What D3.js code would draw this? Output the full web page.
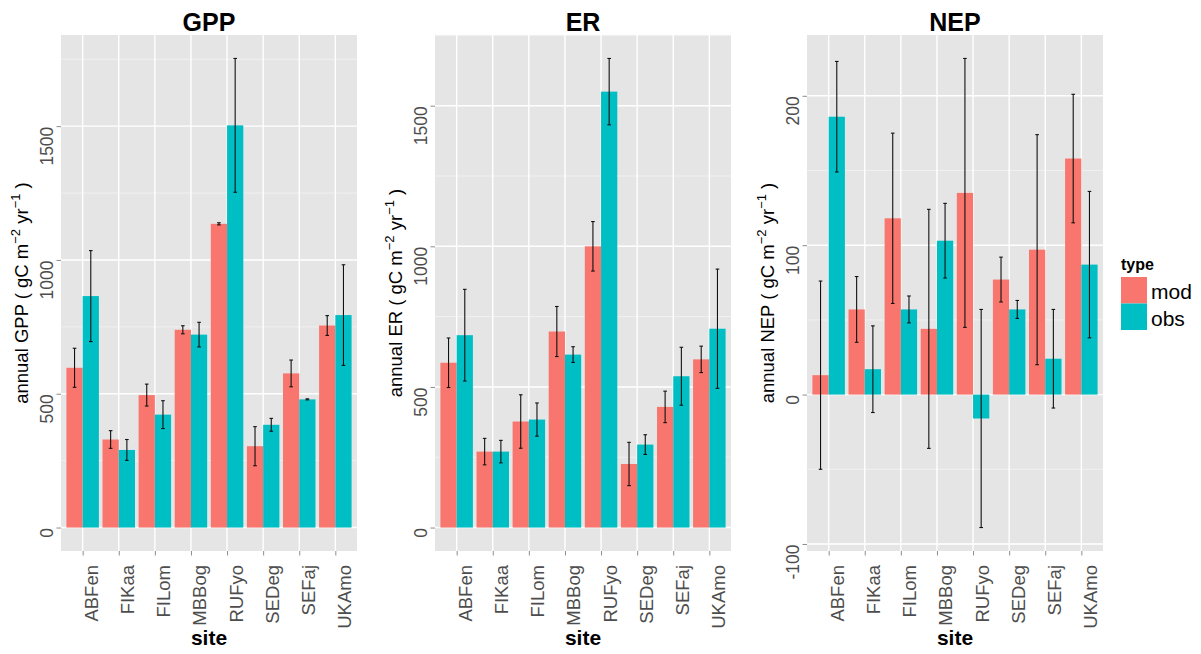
<!DOCTYPE html>
<html>
<head>
<meta charset="utf-8">
<script src="https://cdn.jsdelivr.net/npm/d3@7"></script>
<style>
  body { margin: 0; background: #fff; }
  svg { font-family: "Liberation Sans", Arial, sans-serif; display: block; }
</style>
</head>
<body>
<div id="chart"></div>
<script>
// sites on the x axis
var sites = ["ABFen", "FIKaa", "FILom", "MBBog", "RUFyo", "SEDeg", "SEFaj", "UKAmo"];
var types = ["mod", "obs"];

// GPP (gC m-2 yr-1)
var gppMod    = [597, 329, 495, 739, 1135, 304, 576, 755];
var gppModErr = [73, 33, 41, 15, 4, 73, 50, 37];
var gppObs    = [865, 290, 422, 721, 1503, 384, 479, 794];
var gppObsErr = [170, 39, 52, 46, 250, 24, 2, 188];

// ER
var erMod    = [586, 270, 377, 697, 1000, 226, 429, 598];
var erModErr = [88, 47, 95, 89, 88, 77, 56, 47];
var erObs    = [684, 270, 384, 615, 1550, 295, 538, 707];
var erObsErr = [163, 40, 59, 28, 118, 35, 103, 212];

// NEP
var nepMod    = [13, 57, 118, 44, 135, 77, 97, 158];
var nepModErr = [63, 22, 57, 80, 90, 15, 77, 43];
var nepObs    = [186, 17, 57, 103, -16, 57, 24, 87];
var nepObsErr = [37, 29, 9, 25, 73, 6, 33, 49];

var gppTicks = [0, 500, 1000, 1500];
var erTicks  = [0, 500, 1000, 1500];
var nepTicks = [-100, 0, 100, 200];

var colors = {mod: "#F8766D", obs: "#00BFC4"};

var width = 1201, height = 654;
var panelTop = 35, panelBottom = 551, panelW = 296;

var svg = d3.select("#chart")
  .append("svg")
  .attr("width", width)
  .attr("height", height);

function drawPanel(x0, title, name, mod, modErr, obs, obsErr, ticks) {
  var g = svg.append("g");

  var x = d3.scalePoint()
    .domain(sites)
    .range([x0, x0 + panelW])
    .padding(0.6);
  var step = x.step();

  var lo = d3.min([0, d3.min(mod, function(d, i){ return d - modErr[i]; }), d3.min(obs, function(d, i){ return d - obsErr[i]; })]);
  var hi = d3.max([0, d3.max(mod, function(d, i){ return d + modErr[i]; }), d3.max(obs, function(d, i){ return d + obsErr[i]; })]);
  var pad = (hi - lo) * 0.05;
  var y = d3.scaleLinear().domain([lo - pad, hi + pad]).range([panelBottom, panelTop]);

  // panel background
  g.append("rect")
    .attr("x", x0).attr("y", panelTop)
    .attr("width", panelW).attr("height", panelBottom - panelTop)
    .attr("fill", "#E5E5E5");

  // minor grid lines halfway between the major ticks
  var tstep = ticks[1] - ticks[0];
  var minor = [];
  for (var k = -1; k < ticks.length; k++) {
    var v = ticks[0] + (k + 0.5) * tstep;
    if (v > y.domain()[0] && v < y.domain()[1]) minor.push(v);
  }
  g.selectAll(".minor")
    .data(minor)
    .enter().append("line")
    .attr("x1", x0).attr("x2", x0 + panelW)
    .attr("y1", function(d){ return y(d); })
    .attr("y2", function(d){ return y(d); })
    .attr("stroke", "#F2F2F2")
    .attr("stroke-width", 0.9);

  g.selectAll(".major")
    .data(ticks)
    .enter().append("line")
    .attr("x1", x0).attr("x2", x0 + panelW)
    .attr("y1", function(d){ return y(d); })
    .attr("y2", function(d){ return y(d); })
    .attr("stroke", "#fff")
    .attr("stroke-width", 1.4);

  g.selectAll(".vgrid")
    .data(sites)
    .enter().append("line")
    .attr("x1", function(d){ return x(d); })
    .attr("x2", function(d){ return x(d); })
    .attr("y1", panelTop).attr("y2", panelBottom)
    .attr("stroke", "#fff")
    .attr("stroke-width", 1.4);

  // bars, mod left and obs right of each site
  var bw = step * 0.45;
  var rows = [];
  sites.forEach(function(s, i) {
    rows.push({site: s, type: "mod", value: mod[i], err: modErr[i]});
    rows.push({site: s, type: "obs", value: obs[i], err: obsErr[i]});
  });

  g.selectAll(".bar")
    .data(rows)
    .enter().append("rect")
    .attr("x", function(d){ return d.type == "mod" ? x(d.site) - bw : x(d.site); })
    .attr("width", bw)
    .attr("y", function(d){ return y(Math.max(0, d.value)); })
    .attr("height", function(d){ return Math.abs(y(d.value) - y(0)); })
    .attr("fill", function(d){ return colors[d.type]; });

  // error bars
  var cap = step * 0.05;
  var eb = g.selectAll(".err")
    .data(rows)
    .enter().append("g")
    .attr("transform", function(d){
      var cx = d.type == "mod" ? x(d.site) - bw / 2 : x(d.site) + bw / 2;
      return "translate(" + cx + ",0)";
    })
    .attr("stroke", "#111")
    .attr("stroke-width", 1.1);
  eb.append("line")
    .attr("y1", function(d){ return y(d.value + d.err); })
    .attr("y2", function(d){ return y(d.value - d.err); });
  eb.append("line")
    .attr("x1", -cap).attr("x2", cap)
    .attr("y1", function(d){ return y(d.value + d.err); })
    .attr("y2", function(d){ return y(d.value + d.err); });
  eb.append("line")
    .attr("x1", -cap).attr("x2", cap)
    .attr("y1", function(d){ return y(d.value - d.err); })
    .attr("y2", function(d){ return y(d.value - d.err); });

  // y axis
  var yAx = g.append("g")
    .attr("transform", "translate(" + x0 + ",0)")
    .call(d3.axisLeft(y).tickValues(ticks).tickSize(4.5).tickFormat(function(d){ return String(d); }));
  yAx.select(".domain").remove();
  yAx.selectAll("line").attr("stroke", "#8C8C8C");
  yAx.selectAll("text")
    .attr("transform", "rotate(-90)")
    .attr("x", 0).attr("y", -7.7).attr("dy", 0)
    .attr("text-anchor", "end")
    .attr("fill", "#4D4D4D")
    .style("font-size", "17.5px")
    .style("font-family", "Liberation Sans, Arial, sans-serif");

  // x axis
  var xAx = g.append("g")
    .attr("transform", "translate(0," + panelBottom + ")")
    .call(d3.axisBottom(x).tickSize(4.5));
  xAx.select(".domain").remove();
  xAx.selectAll("line").attr("stroke", "#8C8C8C");
  xAx.selectAll("text")
    .attr("transform", "rotate(-90)")
    .attr("x", -14).attr("y", 15).attr("dy", 0)
    .attr("text-anchor", "end")
    .attr("fill", "#4D4D4D")
    .style("font-size", "18.5px")
    .style("font-family", "Liberation Sans, Arial, sans-serif");

  // titles
  g.append("text")
    .attr("x", x0 + panelW / 2).attr("y", 31)
    .attr("text-anchor", "middle")
    .style("font-size", "25px").style("font-weight", "bold")
    .text(title);

  g.append("text")
    .attr("x", x0 + panelW / 2).attr("y", 645)
    .attr("text-anchor", "middle")
    .style("font-size", "21px").style("font-weight", "bold")
    .text("site");

  var yt = g.append("text")
    .attr("transform", "translate(" + (x0 - 33) + "," + ((panelTop + panelBottom) / 2) + ") rotate(-90)")
    .attr("text-anchor", "middle")
    .style("font-size", "18.5px");
  yt.append("tspan").text("annual " + name + " ( gC m");
  yt.append("tspan").attr("dy", -8).style("font-size", "13px").text("\u22122");
  yt.append("tspan").attr("dy", 8).text(" yr");
  yt.append("tspan").attr("dy", -8).style("font-size", "13px").text("\u22121");
  yt.append("tspan").attr("dy", 8).text(" )");
}

drawPanel(61, "GPP", "GPP", gppMod, gppModErr, gppObs, gppObsErr, gppTicks);
drawPanel(435, "ER", "ER", erMod, erModErr, erObs, erObsErr, erTicks);
drawPanel(807, "NEP", "NEP", nepMod, nepModErr, nepObs, nepObsErr, nepTicks);

// legend
var legend = svg.append("g").attr("transform", "translate(1121,0)");
legend.append("text")
  .attr("x", 0).attr("y", 270)
  .style("font-size", "16px").style("font-weight", "bold")
  .text("type");
var items = legend.selectAll(".key")
  .data(types)
  .enter().append("g")
  .attr("transform", function(d, i){ return "translate(0," + (277 + i * 26.5) + ")"; });
items.append("rect")
  .attr("width", 26).attr("height", 26.5)
  .attr("fill", function(d){ return colors[d]; });
items.append("text")
  .attr("x", 30).attr("y", 22)
  .style("font-size", "21px")
  .text(function(d){ return d; });
</script>
</body>
</html>
